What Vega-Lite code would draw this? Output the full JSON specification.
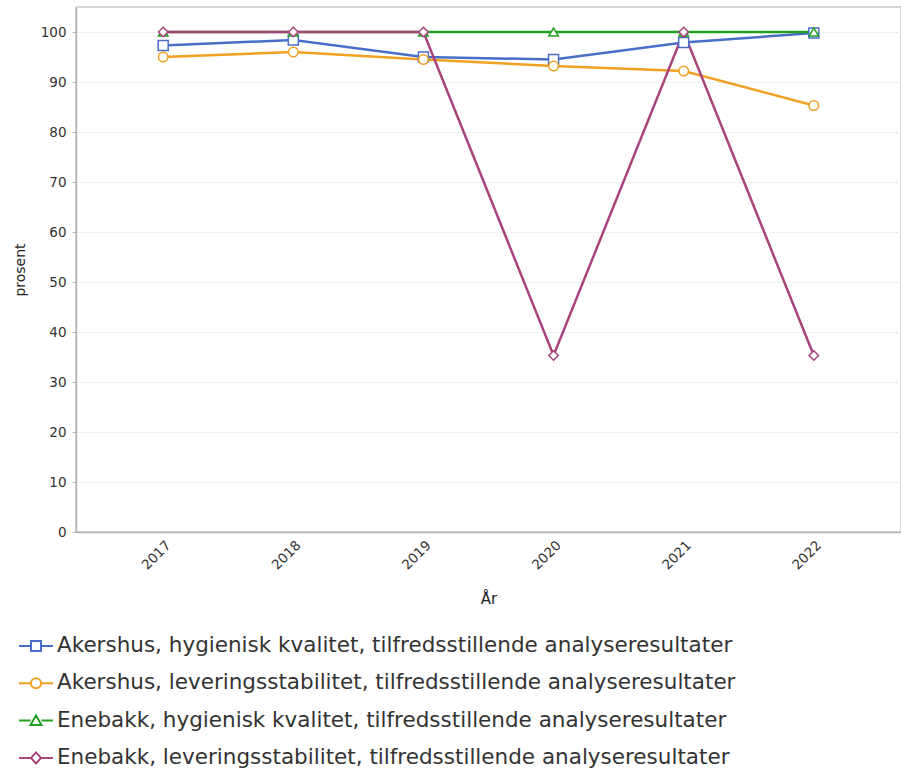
{
  "$schema": "https://vega.github.io/schema/vega-lite/v6.json",
  "autosize": {"type": "none"},
  "width": 825,
  "height": 525,
  "padding": {"left": 76, "top": 7, "right": 0, "bottom": 239},
  "background": "white",
  "config": {
    "font": "DejaVu Sans",
    "view": {"stroke": "#cccccc", "strokeWidth": 1.5},
    "axis": {"labelFont": "DejaVu Sans", "titleFont": "DejaVu Sans", "labelColor": "#333333", "titleColor": "#222222", "titleFontWeight": "normal"}
  },
  "data": {
    "values": [
      {"year": "2017", "series": "Akershus, hygienisk kvalitet, tilfredsstillende analyseresultater", "value": 97.3},
      {"year": "2018", "series": "Akershus, hygienisk kvalitet, tilfredsstillende analyseresultater", "value": 98.4},
      {"year": "2019", "series": "Akershus, hygienisk kvalitet, tilfredsstillende analyseresultater", "value": 95.0},
      {"year": "2020", "series": "Akershus, hygienisk kvalitet, tilfredsstillende analyseresultater", "value": 94.5},
      {"year": "2021", "series": "Akershus, hygienisk kvalitet, tilfredsstillende analyseresultater", "value": 97.9},
      {"year": "2022", "series": "Akershus, hygienisk kvalitet, tilfredsstillende analyseresultater", "value": 99.8},
      {"year": "2017", "series": "Akershus, leveringsstabilitet, tilfredsstillende analyseresultater", "value": 95.0},
      {"year": "2018", "series": "Akershus, leveringsstabilitet, tilfredsstillende analyseresultater", "value": 96.0},
      {"year": "2019", "series": "Akershus, leveringsstabilitet, tilfredsstillende analyseresultater", "value": 94.5},
      {"year": "2020", "series": "Akershus, leveringsstabilitet, tilfredsstillende analyseresultater", "value": 93.2},
      {"year": "2021", "series": "Akershus, leveringsstabilitet, tilfredsstillende analyseresultater", "value": 92.2},
      {"year": "2022", "series": "Akershus, leveringsstabilitet, tilfredsstillende analyseresultater", "value": 85.3},
      {"year": "2017", "series": "Enebakk, hygienisk kvalitet, tilfredsstillende analyseresultater", "value": 100},
      {"year": "2018", "series": "Enebakk, hygienisk kvalitet, tilfredsstillende analyseresultater", "value": 100},
      {"year": "2019", "series": "Enebakk, hygienisk kvalitet, tilfredsstillende analyseresultater", "value": 100},
      {"year": "2020", "series": "Enebakk, hygienisk kvalitet, tilfredsstillende analyseresultater", "value": 100},
      {"year": "2021", "series": "Enebakk, hygienisk kvalitet, tilfredsstillende analyseresultater", "value": 100},
      {"year": "2022", "series": "Enebakk, hygienisk kvalitet, tilfredsstillende analyseresultater", "value": 100},
      {"year": "2017", "series": "Enebakk, leveringsstabilitet, tilfredsstillende analyseresultater", "value": 100},
      {"year": "2018", "series": "Enebakk, leveringsstabilitet, tilfredsstillende analyseresultater", "value": 100},
      {"year": "2019", "series": "Enebakk, leveringsstabilitet, tilfredsstillende analyseresultater", "value": 100},
      {"year": "2020", "series": "Enebakk, leveringsstabilitet, tilfredsstillende analyseresultater", "value": 35.3},
      {"year": "2021", "series": "Enebakk, leveringsstabilitet, tilfredsstillende analyseresultater", "value": 100},
      {"year": "2022", "series": "Enebakk, leveringsstabilitet, tilfredsstillende analyseresultater", "value": 35.3}
    ]
  },
  "encoding": {
    "x": {
      "field": "year", "type": "ordinal",
      "scale": {"type": "point", "padding": 0.67},
      "axis": {"title": "År", "titleFontSize": 15, "titlePadding": 20, "labelAngle": -45, "labelFontSize": 13.5, "labelPadding": 6, "ticks": false, "grid": false, "domainColor": "#b4b4b4", "domainWidth": 1.5}
    },
    "y": {
      "field": "value", "type": "quantitative",
      "scale": {"domain": [0, 105], "nice": false},
      "axis": {"title": "prosent", "titleFontSize": 14, "titlePadding": 13, "values": [0,10,20,30,40,50,60,70,80,90,100], "labelFontSize": 13.5, "labelPadding": 6, "tickSize": 4, "tickColor": "#b4b4b4", "domainColor": "#b4b4b4", "domainWidth": 1.5, "gridColor": "#f0f0f0", "gridWidth": 1}
    },
    "color": {
      "field": "series", "type": "nominal",
      "scale": {
        "domain": [
          "Akershus, hygienisk kvalitet, tilfredsstillende analyseresultater",
          "Akershus, leveringsstabilitet, tilfredsstillende analyseresultater",
          "Enebakk, hygienisk kvalitet, tilfredsstillende analyseresultater",
          "Enebakk, leveringsstabilitet, tilfredsstillende analyseresultater"
        ],
        "range": ["#4a6ec8", "#f0a022", "#22a022", "#a8437c"]
      },
      "legend": {
        "title": null,
        "orient": "none",
        "legendX": -51,
        "legendY": 628,
        "padding": 0,
        "labelFontSize": 21.5,
        "labelFont": "DejaVu Sans",
        "labelColor": "#333333",
        "labelOffset": 10,
        "labelLimit": 900,
        "symbolSize": 400,
        "rowPadding": 15.3,
        "encode": {
          "symbols": {
            "update": {
              "shape": {"signal": "indexof(domain('color'), datum.value) === 0 ? 'M-1.7,0H-0.5M0.5,0H1.7M-0.5,-0.5H0.5V0.5H-0.5Z' : indexof(domain('color'), datum.value) === 1 ? 'M-1.7,0H-0.5M0.5,0H1.7M-0.5,0A0.5,0.5 0 1,0 0.5,0A0.5,0.5 0 1,0 -0.5,0Z' : indexof(domain('color'), datum.value) === 2 ? 'M-1.7,0H-0.55M0.55,0H1.7M0,-0.5L0.55,0.45H-0.55Z' : 'M-1.7,0H-0.5M0.5,0H1.7M0,-0.55L0.5,0L0,0.55L-0.5,0Z'"},
              "fill": {"value": "white"},
              "fillOpacity": {"value": 1},
              "stroke": {"scale": "color", "field": "value"},
              "strokeWidth": {"value": 2},
              "opacity": {"value": 1}
            }
          }
        }
      }
    }
  },
  "layer": [
    {
      "mark": {"type": "line", "strokeWidth": 2.5}
    },
    {
      "transform": [{"filter": "datum.series === 'Akershus, hygienisk kvalitet, tilfredsstillende analyseresultater'"}],
      "mark": {"type": "point", "shape": "square", "filled": false, "fill": "white", "fillOpacity": 1, "strokeWidth": 1.5, "opacity": 1, "size": 100}
    },
    {
      "transform": [{"filter": "datum.series === 'Akershus, leveringsstabilitet, tilfredsstillende analyseresultater'"}],
      "mark": {"type": "point", "shape": "circle", "filled": false, "fill": "white", "fillOpacity": 1, "strokeWidth": 1.5, "opacity": 1, "size": 90}
    },
    {
      "transform": [{"filter": "datum.series === 'Enebakk, hygienisk kvalitet, tilfredsstillende analyseresultater'"}],
      "mark": {"type": "point", "shape": "triangle-up", "filled": false, "fill": "white", "fillOpacity": 1, "strokeWidth": 1.5, "opacity": 1, "size": 90}
    },
    {
      "transform": [{"filter": "datum.series === 'Enebakk, leveringsstabilitet, tilfredsstillende analyseresultater'"}],
      "mark": {"type": "point", "shape": "diamond", "filled": false, "fill": "white", "fillOpacity": 1, "strokeWidth": 1.5, "opacity": 1, "size": 90}
    }
  ]
}
